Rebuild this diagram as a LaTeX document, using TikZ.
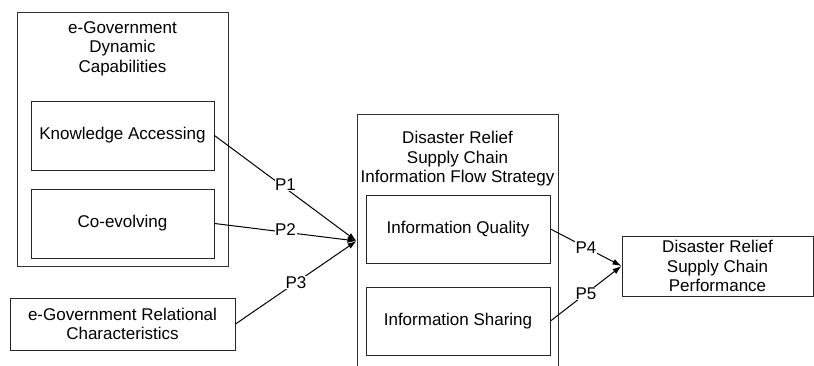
\documentclass[tikz,border=0pt]{standalone}
\usepackage{fontspec}
\setmainfont{Liberation Sans}
\usepackage{tikz}
\usetikzlibrary{arrows.meta, positioning}

\begin{document}
\begin{tikzpicture}[
  x=1pt, y=-1pt,
  >={Latex[length=9pt, width=6pt]},
  font=\fontsize{17}{19.5}\selectfont,
  line width=1pt,
  box/.style={
    rectangle, draw=black!85,
    align=center, inner sep=2pt
  },
  outer/.style={box, draw=black!80},
  title/.style={align=center, inner sep=0pt},
  plab/.style={fill=white, inner sep=0.6pt},
]
\useasboundingbox (0,0) rectangle (814,365);
\clip (0,0) rectangle (814,365);

% --- Left: dynamic capabilities group ---
\node[outer, minimum width=211pt, minimum height=254pt] (DYN) at (122.5,139) {};
\node[title, below=9.5pt of DYN.north] (DYNT) {e-Government\\ Dynamic\\ Capabilities};
\node[box, minimum width=183pt, minimum height=69pt] (KA) at (122.5,135.5) {Knowledge Accessing};
\node[box, minimum width=183pt, minimum height=69pt, below=18pt of KA] (CE) {Co-evolving};

% --- Left: relational characteristics ---
\node[box, minimum width=225pt, minimum height=52pt] (REL) at (122.5,324) {e-Government Relational\\ Characteristics};

% --- Middle: information flow strategy ---
\node[outer, minimum width=201pt, minimum height=254pt] (STR) at (457.5,241) {};
\node[title, below=17.5pt of STR.north] (STRT) {Disaster Relief\\ Supply Chain\\ Information Flow Strategy};
\node[box, minimum width=184pt, minimum height=68pt] (IQ) at (458,229) {Information Quality};
\node[box, minimum width=184pt, minimum height=68pt, below=23pt of IQ] (IS) {Information Sharing};

% --- Right: performance ---
\node[box, minimum width=191pt, minimum height=60pt] (PERF) at (717.5,266) {Disaster Relief\\ Supply Chain\\ Performance};

% --- Arrows ---
\draw[->] (KA.east) -- node[plab, yshift=4pt] {P1} (STR.west);
\draw[->] (CE.east) -- node[plab, yshift=2.5pt] {P2} (STR.west);
\draw[->] (REL.east) -- node[plab] {P3} (STR.west);

\draw[->] (IQ.east) -- node[plab] {P4} (PERF.west);
\draw[->] (IS.east) -- node[plab] {P5} (PERF.west);

\end{tikzpicture}
\end{document}
